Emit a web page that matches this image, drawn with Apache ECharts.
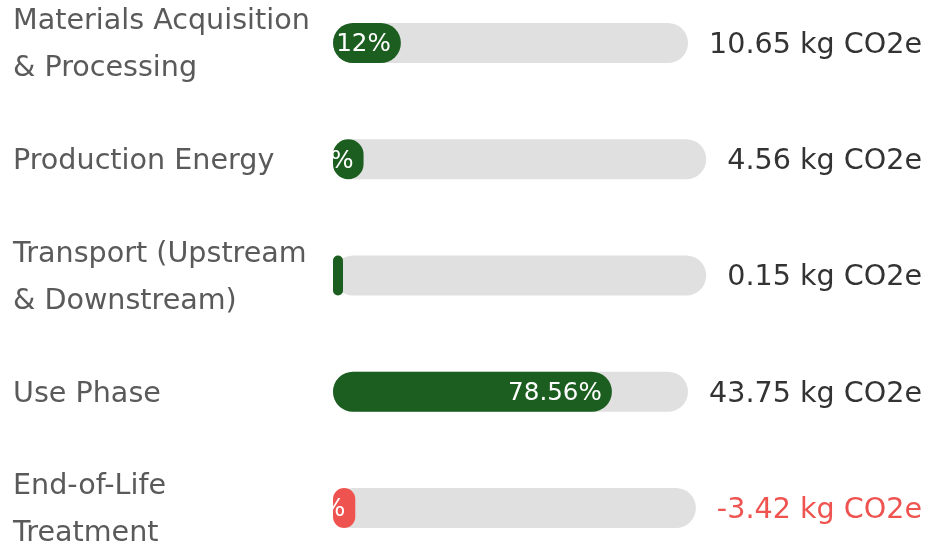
<!DOCTYPE html>
<html><head><meta charset="utf-8">
<script src="https://cdn.jsdelivr.net/npm/echarts@6/dist/echarts.min.js"></script>
<style>html,body{margin:0;padding:0;background:#fff}#c{width:930px;height:545px}</style>
</head><body><div id="c"></div>
<script>
// ---- data ----
const categories = [
  'Materials Acquisition\n& Processing',
  'Production Energy',
  'Transport (Upstream\n& Downstream)',
  'Use Phase',
  'End-of-Life\nTreatment'
];
const emissions = [10.65, 4.56, 0.15, 43.75, -3.42];          // kg CO2e
const sharePct = [19.12, 8.19, 0.27, 78.56, 6.14];           // share of total (%)
const valueLabels = emissions.map(v => v.toFixed(2) + ' kg CO2e');

// ---- styling / layout ----
const FONT = 'DejaVu Sans';
const GREEN = '#1b5e20', RED = '#ef5350', TRACK = '#e0e0e0';
const LABEL_SIZE = 28.6, PCT_SIZE = 24.6;
const ctx = document.createElement('canvas').getContext('2d');
ctx.font = LABEL_SIZE + 'px "' + FONT + '"';
const wrapRich = (txt, key) => txt.split('\n').map(l => '{' + key + '|' + l + '}').join('\n');

const chart = echarts.init(document.getElementById('c'), null, {renderer: 'canvas'});
const grids = [], xAxes = [], yAxes = [], series = [];
categories.forEach((cat, i) => {
  const tw = ctx.measureText(valueLabels[i]).width;
  const neg = emissions[i] < 0;
  grids.push({left: 333, right: 8 + tw + 21, top: 23 + i * 116.25, height: 40, outerBoundsMode: 'none'});
  xAxes.push({type: 'value', gridIndex: i, min: 0, max: 100, show: false});
  yAxes.push({
    type: 'category', gridIndex: i, data: [cat], z: 10,
    axisLine: {show: false}, axisTick: {show: false},
    axisLabel: {margin: 320, align: 'left', fontSize: LABEL_SIZE, fontFamily: FONT, color: '#5a5a5a',
      formatter: v => wrapRich(v, 't'),
      rich: {t: {fontSize: LABEL_SIZE, fontFamily: FONT, color: '#5a5a5a', lineHeight: 47, padding: [5, 0, 0, 0]}}}
  });
  yAxes.push({
    type: 'category', gridIndex: i, position: 'right', data: [valueLabels[i]],
    axisLine: {show: false}, axisTick: {show: false},
    axisLabel: {margin: 21, align: 'left', fontSize: LABEL_SIZE, fontFamily: FONT,
      formatter: v => wrapRich(v, 'v'),
      rich: {v: {fontSize: LABEL_SIZE, fontFamily: FONT, color: neg ? RED : '#333333', padding: [5, 0, 0, 0]}}}
  });
  series.push({
    type: 'bar', xAxisIndex: i, yAxisIndex: i * 2,
    data: [sharePct[i]], barWidth: 40, barMinHeight: 10,
    showBackground: true, backgroundStyle: {color: TRACK, borderRadius: 20},
    itemStyle: {color: neg ? RED : GREEN, borderRadius: 20},
    label: {show: true, position: 'insideRight', distance: 10, color: '#ffffff', fontSize: PCT_SIZE,
      fontFamily: FONT, textBorderWidth: 0,
      formatter: () => '{p|' + sharePct[i].toFixed(2) + '%}',
      rich: {p: {fontSize: PCT_SIZE, fontFamily: FONT, color: '#ffffff', padding: [4, 0, 0, 0]}}},
    silent: true
  });
});
chart.setOption({animation: false, grid: grids, xAxis: xAxes, yAxis: yAxes, series: series});
</script></body></html>
